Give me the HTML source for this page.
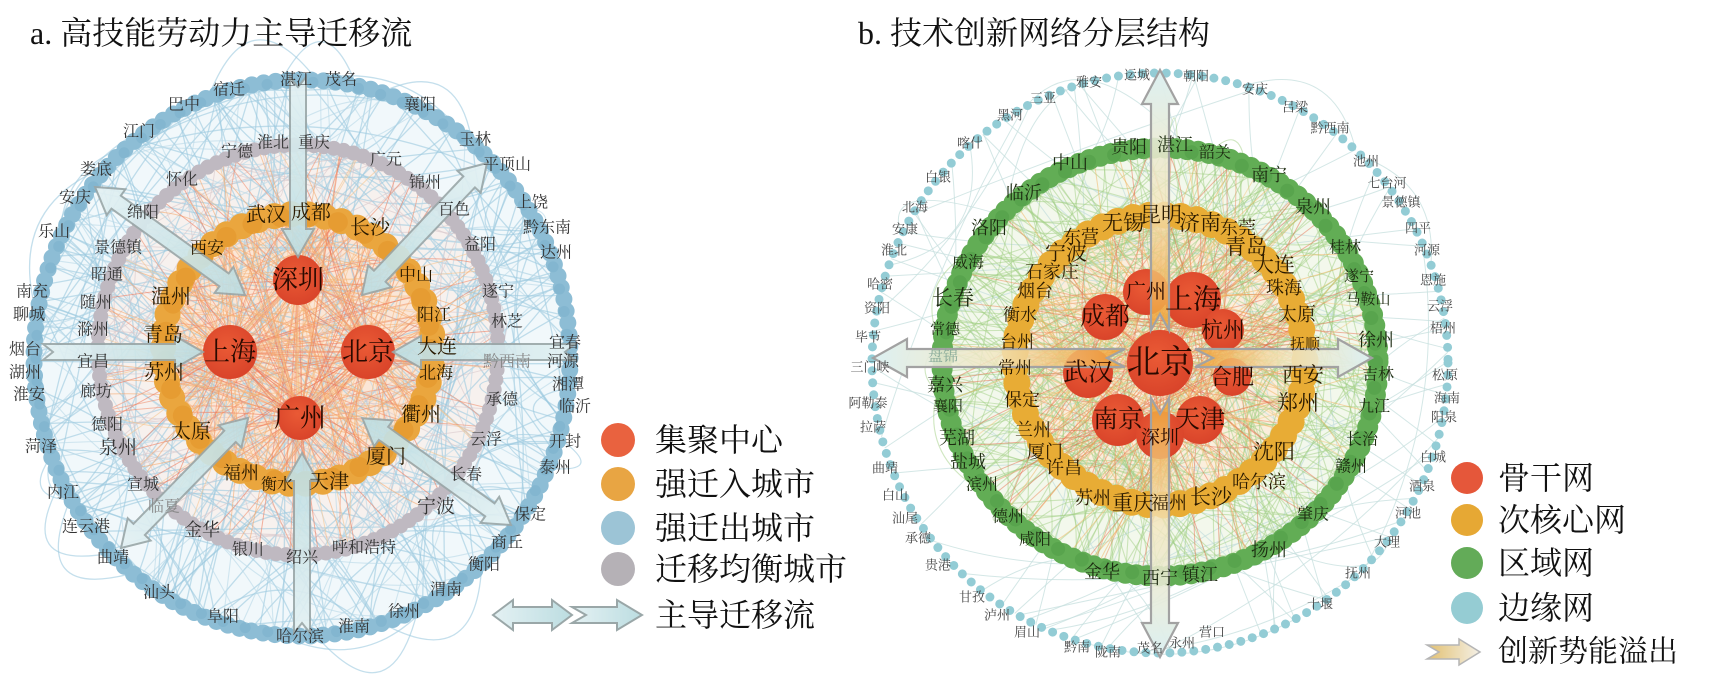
<!DOCTYPE html>
<html><head><meta charset="utf-8">
<style>
html,body{margin:0;padding:0;background:#fff;}
svg{display:block;}
text{font-family:"Liberation Serif","Noto Serif CJK SC",serif;fill:#222;text-anchor:middle;dominant-baseline:central;}
.t{font-size:32px;text-anchor:start;fill:#111;}
.lg{font-size:32px;text-anchor:start;fill:#111;}
.s{font-size:16px;fill:#333;}
.g{font-size:16px;fill:#333;}
.o{font-size:20px;fill:#2a1a00;}
.r{font-size:26px;fill:#2a0a00;}
.c{font-size:13px;fill:#444;}
.gr{font-size:18px;fill:#1c2a10;}
.ro{font-size:21px;fill:#2a1a00;}
.rr{font-size:25px;fill:#2a0a00;}
</style></head>
<body>
<svg width="1724" height="686" viewBox="0 0 1724 686" xmlns="http://www.w3.org/2000/svg">
<defs>
<linearGradient id="la" x1="0" y1="0" x2="1" y2="0">
<stop offset="0" stop-color="#e4f1f3"/><stop offset="1" stop-color="#bcdde1"/>
</linearGradient>
<linearGradient id="ra" x1="0" y1="0" x2="1" y2="0">
<stop offset="0" stop-color="#f0a030" stop-opacity="0.85"/><stop offset="0.5" stop-color="#f3e6bf" stop-opacity="0.8"/><stop offset="1" stop-color="#dcf0f2"/>
</linearGradient>
<linearGradient id="ga" x1="0" y1="0" x2="1" y2="0">
<stop offset="0" stop-color="#e2c070"/><stop offset="1" stop-color="#f4f0e6"/>
</linearGradient>
<radialGradient id="rn" cx="0.45" cy="0.4" r="0.6">
<stop offset="0" stop-color="#ea5a35"/><stop offset="1" stop-color="#d9442a"/>
</radialGradient>
</defs>

<!-- backgrounds -->
<ellipse cx="302" cy="358" rx="268" ry="278" fill="#f1f8fb"/>
<ellipse cx="298" cy="350" rx="200" ry="205" fill="#f7f1ee"/>
<ellipse cx="298" cy="349" rx="135" ry="135" fill="#fbe6d6"/>
<ellipse cx="1160" cy="362" rx="218" ry="214" fill="#f3f8ec"/>
<ellipse cx="1160" cy="360" rx="145" ry="145" fill="#fbeedc"/>

<g id="edges"></g>

<!-- left rings -->
<ellipse cx="302" cy="358" rx="268" ry="278" fill="none" stroke="#8dbdd5" stroke-width="17" stroke-dasharray="0 12" stroke-linecap="round"/>
<ellipse cx="302" cy="358" rx="266" ry="276" fill="none" stroke="#7fb3cd" stroke-width="11" stroke-dasharray="0 23" stroke-linecap="round" opacity="0.7"/>
<ellipse cx="298" cy="350" rx="200" ry="205" fill="none" stroke="#bfb9c1" stroke-width="15" stroke-dasharray="0 10" stroke-linecap="round"/>
<ellipse cx="298" cy="349" rx="135" ry="135" fill="none" stroke="#eaa63e" stroke-width="26" stroke-dasharray="0 17" stroke-linecap="round"/>
<ellipse cx="298" cy="349" rx="133" ry="133" fill="none" stroke="#e59a30" stroke-width="20" stroke-dasharray="0 29" stroke-linecap="round" opacity="0.8"/>

<!-- right rings -->
<ellipse cx="1160" cy="363" rx="288" ry="290" fill="none" stroke="#93ccd5" stroke-width="9" stroke-dasharray="0 12" stroke-linecap="round"/>
<ellipse cx="1160" cy="362" rx="218" ry="214" fill="none" stroke="#62ad55" stroke-width="21" stroke-dasharray="0 11" stroke-linecap="round"/>
<ellipse cx="1160" cy="362" rx="216" ry="212" fill="none" stroke="#549f4a" stroke-width="14" stroke-dasharray="0 26" stroke-linecap="round" opacity="0.7"/>
<ellipse cx="1160" cy="360" rx="145" ry="145" fill="none" stroke="#e8ac35" stroke-width="27" stroke-dasharray="0 16" stroke-linecap="round"/>

<!-- left red nodes -->
<circle cx="298" cy="280" r="25" fill="url(#rn)"/>
<circle cx="230" cy="352" r="27" fill="url(#rn)"/>
<circle cx="368" cy="352" r="27" fill="url(#rn)"/>
<circle cx="300" cy="418" r="22" fill="url(#rn)"/>

<!-- right red nodes -->
<circle cx="1146" cy="292" r="23" fill="url(#rn)"/>
<circle cx="1193" cy="300" r="28" fill="url(#rn)"/>
<circle cx="1105" cy="317" r="23" fill="url(#rn)"/>
<circle cx="1223" cy="330" r="21" fill="url(#rn)"/>
<circle cx="1088" cy="373" r="25" fill="url(#rn)"/>
<circle cx="1232" cy="377" r="19" fill="url(#rn)"/>
<circle cx="1118" cy="420" r="26" fill="url(#rn)"/>
<circle cx="1200" cy="420" r="24" fill="url(#rn)"/>
<circle cx="1160" cy="435" r="24" fill="url(#rn)"/>
<circle cx="1160" cy="363" r="33" fill="url(#rn)"/>

<!-- left arrows -->
<g fill="url(#la)" stroke="#9aa7a8" stroke-width="2" opacity="0.92">
<polygon transform="translate(298,77) rotate(90)" points="0,-8 152,-8 152,-16 180,0 152,16 152,8 0,8 10,0"/>
<polygon transform="translate(302,633) rotate(-90)" points="0,-8 152,-8 152,-16 180,0 152,16 152,8 0,8 10,0"/>
<polygon transform="translate(43,352) rotate(0)" points="0,-8 132,-8 132,-16 160,0 132,16 132,8 0,8 10,0"/>
<polygon transform="translate(575,352) rotate(180)" points="0,-8 154,-8 154,-16 182,0 154,16 154,8 0,8 10,0"/>
<polygon transform="translate(95,187) rotate(35.75)" points="0,0 26,-16 26,-8 159,-8 159,-16 185,0 159,16 159,8 26,8 26,16"/>
<polygon transform="translate(487,163) rotate(133.44)" points="0,0 26,-16 26,-8 156,-8 156,-16 182,0 156,16 156,8 26,8 26,16"/>
<polygon transform="translate(121,548) rotate(-45.67)" points="0,0 26,-16 26,-8 156,-8 156,-16 182,0 156,16 156,8 26,8 26,16"/>
<polygon transform="translate(511,525) rotate(-144.32)" points="0,0 26,-16 26,-8 157,-8 157,-16 183,0 157,16 157,8 26,8 26,16"/>
</g>

<!-- right arrows -->
<g fill="url(#ra)" stroke="#a2a2a2" stroke-width="2.2">
<polygon transform="translate(1160,330) rotate(-90)" points="0,-9 226,-9 226,-18 260,0 226,18 226,9 0,9 16,0"/>
<polygon transform="translate(1160,398) rotate(90)" points="0,-9 225,-9 225,-18 259,0 225,18 225,9 0,9 16,0"/>
<polygon transform="translate(1125,358) rotate(180)" points="0,-9 218,-9 218,-19 252,0 218,19 218,9 0,9 18,0"/>
<polygon transform="translate(1195,358) rotate(0)" points="0,-9 143,-9 143,-19 177,0 143,19 143,9 0,9 18,0"/>
</g>

<!-- titles -->
<text class="t" x="30" y="33">a. 高技能劳动力主导迁移流</text>
<text class="t" x="858" y="33">b. 技术创新网络分层结构</text>

<!-- left labels: blue -->
<g class="s">
<text class="s" x="296" y="80">湛江</text><text class="s" x="341" y="80">茂名</text><text class="s" x="229" y="90">宿迁</text>
<text class="s" x="184" y="105">巴中</text><text class="s" x="420" y="105">襄阳</text><text class="s" x="139" y="132">江门</text>
<text class="s" x="475" y="140">玉林</text><text class="s" x="96" y="170">娄底</text><text class="s" x="507" y="165">平顶山</text>
<text class="s" x="75" y="198">安庆</text><text class="s" x="532" y="203">上饶</text><text class="s" x="54" y="232">乐山</text>
<text class="s" x="547" y="228">黔东南</text><text class="s" x="556" y="253">达州</text>
<text class="s" x="32" y="292">南充</text><text class="s" x="29" y="315">聊城</text><text class="s" x="25" y="350">烟台</text>
<text class="s" x="25" y="373">湖州</text><text class="s" x="29" y="395">淮安</text>
<text class="s" x="565" y="343">宜春</text><text class="s" x="563" y="362">河源</text><text class="s" x="568" y="385">湘潭</text>
<text class="s" x="575" y="407">临沂</text><text class="s" x="565" y="442">开封</text><text class="s" x="555" y="468">泰州</text>
<text class="s" x="41" y="447">菏泽</text><text class="s" x="63" y="493">内江</text><text class="s" x="86" y="527">连云港</text>
<text class="s" x="113" y="558">曲靖</text><text class="s" x="159" y="593">汕头</text><text class="s" x="223" y="617">阜阳</text>
<text class="s" x="300" y="637">哈尔滨</text><text class="s" x="354" y="627">淮南</text><text class="s" x="404" y="612">徐州</text>
<text class="s" x="446" y="590">渭南</text><text class="s" x="484" y="565">衡阳</text><text class="s" x="507" y="543">商丘</text>
<text class="s" x="530" y="515">保定</text>
</g>
<!-- left gray -->
<text class="g" x="237" y="152">宁德</text><text class="g" x="273" y="143">淮北</text><text class="g" x="314" y="143">重庆</text>
<text class="g" x="386" y="160">广元</text><text class="g" x="182" y="180">怀化</text><text class="g" x="425" y="183">锦州</text>
<text class="g" x="143" y="213">绵阳</text><text class="g" x="454" y="210">百色</text><text class="g" x="118" y="248">景德镇</text>
<text class="g" x="480" y="245">益阳</text><text class="g" x="107" y="275">昭通</text><text class="g" x="498" y="292">遂宁</text>
<text class="g" x="96" y="303">随州</text><text class="g" x="507" y="322">林芝</text><text class="g" x="93" y="330">滁州</text>
<text class="g" x="93" y="362">宜昌</text><text class="g" x="96" y="392">廊坊</text><text class="g" x="107" y="425">德阳</text>
<text class="g" x="118" y="448" style="font-size:19px">泉州</text><text class="g" x="143" y="485">宣城</text><text class="g" x="164" y="507" style="fill:#888">临夏</text>
<text class="g" x="202" y="530" style="font-size:18px">金华</text><text class="g" x="248" y="550">银川</text><text class="g" x="302" y="558">绍兴</text>
<text class="g" x="364" y="548">呼和浩特</text><text class="g" x="436" y="507" style="font-size:19px">宁波</text><text class="g" x="466" y="475">长春</text>
<text class="g" x="486" y="440">云浮</text><text class="g" x="502" y="400">承德</text><text class="g" x="507" y="362" style="fill:#888">黔西南</text>
<!-- left orange -->
<text class="o" x="266" y="215">武汉</text><text class="o" x="311" y="213">成都</text><text class="o" x="370" y="228">长沙</text>
<text class="o" x="207" y="248" style="font-size:17px">西安</text><text class="o" x="416" y="275" style="font-size:17px">中山</text><text class="o" x="171" y="297">温州</text>
<text class="o" x="434" y="315" style="font-size:17px">阳江</text><text class="o" x="163" y="335">青岛</text><text class="o" x="437" y="347">大连</text>
<text class="o" x="164" y="373">苏州</text><text class="o" x="436" y="373" style="font-size:17px">北海</text><text class="o" x="421" y="415">衢州</text>
<text class="o" x="386" y="457">厦门</text><text class="o" x="191" y="432">太原</text><text class="o" x="241" y="473" style="font-size:18px">福州</text>
<text class="o" x="277" y="485" style="font-size:16px">衡水</text><text class="o" x="329" y="482">天津</text>
<!-- left red -->
<text class="r" x="298" y="280">深圳</text><text class="r" x="230" y="352">上海</text>
<text class="r" x="368" y="352">北京</text><text class="r" x="300" y="418">广州</text>

<!-- right cyan labels -->
<text class="c" x="1137" y="75">运城</text><text class="c" x="1196" y="76">朝阳</text><text class="c" x="1089" y="82">雅安</text>
<text class="c" x="1255" y="89">安庆</text><text class="c" x="1043" y="98">三亚</text><text class="c" x="1295" y="107">吕梁</text>
<text class="c" x="1010" y="115">黑河</text><text class="c" x="1330" y="128">黔西南</text><text class="c" x="970" y="143">喀什</text>
<text class="c" x="1366" y="161">池州</text><text class="c" x="938" y="177">白银</text><text class="c" x="1387" y="183">七台河</text>
<text class="c" x="915" y="207">北海</text><text class="c" x="1401" y="202">景德镇</text><text class="c" x="905" y="229">安康</text>
<text class="c" x="1418" y="228">四平</text><text class="c" x="894" y="250">淮北</text><text class="c" x="1427" y="250">河源</text>
<text class="c" x="880" y="284">哈密</text><text class="c" x="1433" y="280">恩施</text><text class="c" x="877" y="308">资阳</text>
<text class="c" x="1440" y="306">云浮</text><text class="c" x="1443" y="328">梧州</text><text class="c" x="1445" y="375">松原</text>
<text class="c" x="868" y="337">毕节</text><text class="c" x="870" y="367">三门峡</text><text class="c" x="868" y="403">阿勒泰</text>
<text class="c" x="873" y="427">拉萨</text><text class="c" x="885" y="468">曲靖</text><text class="c" x="895" y="495">白山</text>
<text class="c" x="905" y="518">汕尾</text><text class="c" x="918" y="538">承德</text><text class="c" x="938" y="565">贵港</text>
<text class="c" x="972" y="597">甘孜</text><text class="c" x="997" y="615">泸州</text><text class="c" x="1027" y="632">眉山</text>
<text class="c" x="1077" y="647">黔南</text><text class="c" x="1108" y="652">陇南</text><text class="c" x="1150" y="648">茂名</text>
<text class="c" x="1182" y="643">永州</text><text class="c" x="1212" y="632">营口</text><text class="c" x="1320" y="604">十堰</text>
<text class="c" x="1358" y="573">抚州</text><text class="c" x="1387" y="542">大理</text><text class="c" x="1408" y="513">河池</text>
<text class="c" x="1422" y="486">酒泉</text><text class="c" x="1433" y="457">白城</text><text class="c" x="1444" y="417">阳泉</text>
<text class="c" x="1447" y="398">海南</text>
<!-- right green -->
<text class="gr" x="1129" y="147">贵阳</text><text class="gr" x="1175" y="145">湛江</text><text class="gr" x="1215" y="153" style="font-size:16px">韶关</text>
<text class="gr" x="1070" y="163">中山</text><text class="gr" x="1269" y="175">南宁</text><text class="gr" x="1024" y="193">临沂</text>
<text class="gr" x="1313" y="207">泉州</text><text class="gr" x="989" y="228">洛阳</text><text class="gr" x="1345" y="248" style="font-size:16px">桂林</text>
<text class="gr" x="968" y="263" style="font-size:16px">威海</text><text class="gr" x="1359" y="277" style="font-size:15px">遂宁</text><text class="gr" x="1368" y="300" style="font-size:15px">马鞍山</text>
<text class="gr" x="953" y="298" style="font-size:21px">长春</text><text class="gr" x="945" y="330" style="font-size:15px">常德</text><text class="gr" x="943" y="357" style="font-size:15px;fill:#8a9">盘锦</text>
<text class="gr" x="945" y="385">嘉兴</text><text class="gr" x="948" y="407" style="font-size:15px">襄阳</text><text class="gr" x="957" y="438">芜湖</text>
<text class="gr" x="968" y="462">盐城</text><text class="gr" x="982" y="485" style="font-size:16px">滨州</text><text class="gr" x="1008" y="517" style="font-size:16px">德州</text>
<text class="gr" x="1035" y="540" style="font-size:16px">咸阳</text><text class="gr" x="1102" y="572">金华</text><text class="gr" x="1160" y="578">西宁</text>
<text class="gr" x="1200" y="575">镇江</text><text class="gr" x="1269" y="550">扬州</text><text class="gr" x="1313" y="515" style="font-size:16px">肇庆</text>
<text class="gr" x="1351" y="467" style="font-size:16px">赣州</text><text class="gr" x="1362" y="440" style="font-size:16px">长治</text><text class="gr" x="1374" y="407" style="font-size:16px">九江</text>
<text class="gr" x="1378" y="375" style="font-size:16px">吉林</text><text class="gr" x="1376" y="340">徐州</text>
<!-- right orange -->
<text class="ro" x="1123" y="223">无锡</text><text class="ro" x="1161" y="215">昆明</text><text class="ro" x="1200" y="223">济南</text>
<text class="ro" x="1238" y="228" style="font-size:18px">东莞</text><text class="ro" x="1081" y="237" style="font-size:18px">东营</text><text class="ro" x="1246" y="247">青岛</text>
<text class="ro" x="1066" y="253">宁波</text><text class="ro" x="1274" y="265">大连</text><text class="ro" x="1052" y="272" style="font-size:18px">石家庄</text>
<text class="ro" x="1284" y="288" style="font-size:18px">珠海</text><text class="ro" x="1035" y="291" style="font-size:18px">烟台</text><text class="ro" x="1020" y="315" style="font-size:17px">衡水</text>
<text class="ro" x="1297" y="315" style="font-size:19px">太原</text><text class="ro" x="1017" y="342" style="font-size:17px">台州</text><text class="ro" x="1305" y="345" style="font-size:15px">抚顺</text>
<text class="ro" x="1015" y="368" style="font-size:17px">常州</text><text class="ro" x="1303" y="375">西安</text><text class="ro" x="1022" y="400" style="font-size:18px">保定</text>
<text class="ro" x="1298" y="403">郑州</text><text class="ro" x="1033" y="430" style="font-size:18px">兰州</text><text class="ro" x="1045" y="452" style="font-size:18px">厦门</text>
<text class="ro" x="1064" y="468" style="font-size:18px">许昌</text><text class="ro" x="1274" y="452">沈阳</text><text class="ro" x="1259" y="482" style="font-size:18px">哈尔滨</text>
<text class="ro" x="1093" y="498" style="font-size:18px">苏州</text><text class="ro" x="1133" y="503">重庆</text><text class="ro" x="1169" y="503" style="font-size:18px">福州</text>
<text class="ro" x="1211" y="497">长沙</text>
<!-- right red -->
<text class="rr" x="1146" y="292" style="font-size:20px">广州</text><text class="rr" x="1193" y="300" style="font-size:28px">上海</text>
<text class="rr" x="1105" y="317">成都</text><text class="rr" x="1223" y="330" style="font-size:22px">杭州</text>
<text class="rr" x="1088" y="373">武汉</text><text class="rr" x="1232" y="377" style="font-size:22px">合肥</text>
<text class="rr" x="1118" y="420">南京</text><text class="rr" x="1200" y="420">天津</text>
<text class="rr" x="1160" y="438" style="font-size:19px">深圳</text><text class="rr" x="1160" y="363" style="font-size:33px">北京</text>

<!-- left legend -->
<circle cx="618" cy="440" r="17" fill="#e9623f"/>
<circle cx="618" cy="484" r="17" fill="#e8a543"/>
<circle cx="618" cy="528" r="17" fill="#9cc4d6"/>
<circle cx="618" cy="569" r="17" fill="#b5b1b6"/>
<text class="lg" x="655" y="440">集聚中心</text>
<text class="lg" x="655" y="484">强迁入城市</text>
<text class="lg" x="655" y="528">强迁出城市</text>
<text class="lg" x="655" y="569">迁移均衡城市</text>
<g fill="url(#la)" stroke="#9aa7a8" stroke-width="2">
<polygon transform="translate(493,615)" points="0,0 20,-15 20,-8 59,-8 59,-15 79,0 59,15 59,8 20,8 20,15"/>
<polygon transform="translate(572,615)" points="0,-8 45,-8 45,-15 70,0 45,15 45,8 0,8 14,0"/>
</g>
<text class="lg" x="655" y="615">主导迁移流</text>

<!-- right legend -->
<circle cx="1467" cy="478" r="16" fill="#e5573a"/>
<circle cx="1467" cy="520" r="16" fill="#e6a834"/>
<circle cx="1467" cy="563" r="16" fill="#63ab58"/>
<circle cx="1467" cy="608" r="16" fill="#95ccd3"/>
<text class="lg" x="1498" y="478">骨干网</text>
<text class="lg" x="1498" y="520">次核心网</text>
<text class="lg" x="1498" y="563">区域网</text>
<text class="lg" x="1498" y="608">边缘网</text>
<polygon transform="translate(1427,652)" points="0,-7 32,-7 32,-13 53,0 32,13 32,7 0,7 12,0" fill="url(#ga)" stroke="#b5b5b5" stroke-width="1.5"/>
<text class="lg" x="1498" y="652" style="font-size:30px">创新势能溢出</text>
</svg>
<script>
(function(){
var s=12345;function R(){s=(s*16807)%2147483647;return (s-1)/2147483646;}
var g=document.getElementById('edges'),ns='http://www.w3.org/2000/svg',out=[];
function pt(cx,cy,rx,ry){var a=R()*Math.PI*2;return [cx+rx*Math.cos(a),cy+ry*Math.sin(a)];}
function curve(p,q,cx,cy,k,col,w,op){var mx=(p[0]+q[0])/2,my=(p[1]+q[1])/2;var c=[cx+(mx-cx)*k,cy+(my-cy)*k];
out.push('<path d="M'+p[0].toFixed(1)+' '+p[1].toFixed(1)+' Q'+c[0].toFixed(1)+' '+c[1].toFixed(1)+' '+q[0].toFixed(1)+' '+q[1].toFixed(1)+'" stroke="'+col+'" stroke-width="'+w+'" fill="none" opacity="'+op+'"/>');}
var i,p,q;
// left blue
for(i=0;i<170;i++){p=pt(302,358,266,276);q=pt(302,358,266,276);curve(p,q,302,358,0.3+R()*1.1,'#9ccae0',1.3,0.6);}
for(i=0;i<70;i++){p=pt(298,350,200,205);q=pt(302,358,266,276);curve(p,q,298,350,0.6+R()*0.8,'#b9d9e8',1.1,0.6);}
for(i=0;i<60;i++){p=pt(298,350,200,205);q=pt(298,350,200,205);curve(p,q,298,350,0.5+R()*0.8,'#d8c8cc',1,0.6);}
var red=[[298,280],[230,352],[368,352],[300,418]],cols=['#f4a56a','#ee7658','#f6c28a','#f08a6a'];
for(i=0;i<320;i++){p=red[Math.floor(R()*4)];q=R()<0.6?pt(298,349,135,135):pt(298,350,200,205);curve(p,q,298,349,0.6+R()*0.8,cols[Math.floor(R()*4)],1,0.55);}
for(i=0;i<80;i++){p=pt(298,349,135,135);q=pt(298,349,135,135);curve(p,q,298,349,0.3+R()*0.9,'#f5b070',1,0.5);}
// right
for(i=0;i<70;i++){p=pt(1160,363,288,290);q=R()<0.5?pt(1160,363,288,290):pt(1160,362,218,214);curve(p,q,1160,363,0.4+R()*1,'#c5dfde',1,0.75);}
for(i=0;i<300;i++){p=pt(1160,362,218,214);q=R()<0.5?pt(1160,362,218,214):pt(1160,360,145,145);curve(p,q,1160,362,0.2+R()*1.1,'#a2d084',1.1,0.5);}
var red2=[[1160,363],[1146,292],[1193,300],[1105,317],[1223,330],[1088,373],[1232,377],[1118,420],[1200,420],[1160,435]];
var cols2=['#f2b25c','#ee8a5c','#f5c880','#e87050'];
for(i=0;i<320;i++){p=red2[Math.floor(R()*10)];q=R()<0.7?pt(1160,360,145,145):pt(1160,362,218,214);curve(p,q,1160,360,0.5+R()*0.9,cols2[Math.floor(R()*4)],1,0.5);}
g.innerHTML=out.join('');
})();
</script>
</body></html>
